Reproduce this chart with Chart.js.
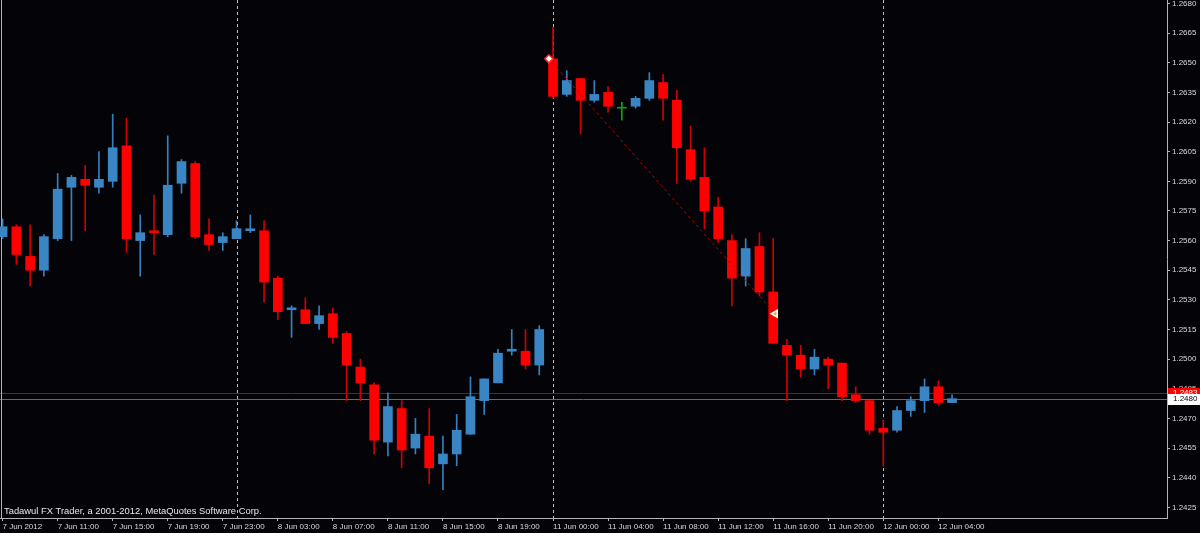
<!DOCTYPE html>
<html>
<head>
<meta charset="utf-8">
<title>Tadawul FX Trader chart</title>
<script src="https://cdn.jsdelivr.net/npm/chart.js@4.4.1/dist/chart.umd.min.js"></script>
<style>
  html, body { margin: 0; padding: 0; background: #040408; }
  canvas { display: block; }
</style>
</head>
<body>
<canvas id="chart" width="1200" height="533"></canvas>
<script>
// hourly bars, 7 Jun 2012 07:00 .. 12 Jun 2012 05:00 (index = bar number)
const openP = [
  1.2562, 1.2567, 1.2552, 1.2545, 1.2561, 1.2587, 1.2591, 1.2587, 1.2590, 1.2608,
  1.2560, 1.2565, 1.2563, 1.2589, 1.2599, 1.2563, 1.2559, 1.2561, 1.2565, 1.2565,
  1.2541, 1.2525, 1.2525, 1.2518, 1.2523, 1.2513, 1.2496, 1.2487, 1.2458, 1.2475,
  1.2455, 1.2461, 1.2447, 1.2452, 1.2462, 1.2479, 1.2488, 1.2504, 1.2504, 1.2497,
  1.2652, 1.2634, 1.2642, 1.2631, 1.2635, 1.2627, 1.2628, 1.2632, 1.2640, 1.2631,
  1.2606, 1.2592, 1.2577, 1.2560, 1.2542, 1.2557, 1.2534, 1.2507, 1.2502, 1.2495,
  1.2500, 1.2498, 1.2482, 1.2479, 1.2465, 1.2464, 1.2474, 1.2479, 1.2486, 1.2478
];
const highP = [
  1.2571, 1.2568, 1.2568, 1.2563, 1.2594, 1.2593, 1.2598, 1.2605, 1.2624, 1.2622,
  1.2573, 1.2583, 1.2613, 1.2601, 1.2600, 1.2571, 1.2564, 1.2570, 1.2573, 1.2570,
  1.2542, 1.2527, 1.2531, 1.2527, 1.2526, 1.2514, 1.2500, 1.2488, 1.2483, 1.2479,
  1.2470, 1.2475, 1.2461, 1.2472, 1.2491, 1.2490, 1.2505, 1.2515, 1.2515, 1.2517,
  1.2668, 1.2646, 1.2642, 1.2641, 1.2638, 1.2630, 1.2633, 1.2645, 1.2644, 1.2636,
  1.2618, 1.2607, 1.2582, 1.2563, 1.2561, 1.2564, 1.2561, 1.2510, 1.2507, 1.2505,
  1.2501, 1.2498, 1.2486, 1.2479, 1.2469, 1.2476, 1.2481, 1.2490, 1.2489, 1.2482
];
const lowP = [
  1.2561, 1.2548, 1.2537, 1.2542, 1.2560, 1.2560, 1.2565, 1.2584, 1.2587, 1.2554,
  1.2542, 1.2553, 1.2562, 1.2584, 1.2561, 1.2555, 1.2555, 1.2561, 1.2564, 1.2529,
  1.2520, 1.2511, 1.2518, 1.2515, 1.2508, 1.2479, 1.2479, 1.2452, 1.2451, 1.2445,
  1.2452, 1.2437, 1.2434, 1.2446, 1.2462, 1.2472, 1.2488, 1.2502, 1.2495, 1.2492,
  1.2632, 1.2633, 1.2614, 1.2630, 1.2625, 1.2621, 1.2627, 1.2631, 1.2621, 1.2589,
  1.2590, 1.2566, 1.2559, 1.2527, 1.2537, 1.2532, 1.2508, 1.2479, 1.2491, 1.2492,
  1.2485, 1.2479, 1.2478, 1.2462, 1.2446, 1.2463, 1.2471, 1.2473, 1.2477, 1.2478
];
const closeP = [
  1.2567, 1.2553, 1.2545, 1.2562, 1.2586, 1.2592, 1.2588, 1.2591, 1.2607, 1.2561,
  1.2564, 1.2564, 1.2588, 1.2600, 1.2562, 1.2558, 1.2562, 1.2566, 1.2566, 1.2539,
  1.2524, 1.2526, 1.2518, 1.2522, 1.2511, 1.2497, 1.2488, 1.2459, 1.2476, 1.2454,
  1.2462, 1.2445, 1.2452, 1.2464, 1.2481, 1.2490, 1.2503, 1.2505, 1.2497, 1.2515,
  1.2633, 1.2641, 1.2631, 1.2634, 1.2628, 1.2627, 1.2632, 1.2641, 1.2632, 1.2607,
  1.2591, 1.2575, 1.2561, 1.2541, 1.2556, 1.2534, 1.2508, 1.2502, 1.2495, 1.2501,
  1.2497, 1.2481, 1.2479, 1.2464, 1.2463, 1.2474, 1.2479, 1.2486, 1.2478, 1.2480
];

const xTickPos = [0, 4, 8, 12, 16, 20, 24, 28, 32, 36, 40, 44, 48, 52, 56, 60, 64, 68];
const xTickLabels = [
  '7 Jun 2012', '7 Jun 11:00', '7 Jun 15:00', '7 Jun 19:00', '7 Jun 23:00',
  '8 Jun 03:00', '8 Jun 07:00', '8 Jun 11:00', '8 Jun 15:00', '8 Jun 19:00',
  '11 Jun 00:00', '11 Jun 04:00', '11 Jun 08:00', '11 Jun 12:00', '11 Jun 16:00',
  '11 Jun 20:00', '12 Jun 00:00', '12 Jun 04:00'
];
const priceTicks = [
  1.2425, 1.2440, 1.2455, 1.2470, 1.2485, 1.2500, 1.2515, 1.2530, 1.2545,
  1.2560, 1.2575, 1.2590, 1.2605, 1.2620, 1.2635, 1.2650, 1.2665, 1.2680
];
const daySeparators = [17, 40, 64];   // 8 Jun, 11 Jun, 12 Jun 00:00
const bidPrice = 1.2480;
const askPrice = 1.2483;
const tradeX = [39.7, 56.15];
const tradeY = [1.2652, 1.2523];

const UP = '#3a86c4', DOWN = '#ff0000', DOJI = '#12a012';
const AXIS = '#b4b4b4', TXT = '#d8d8d8';
const FONT = '"Liberation Sans", Arial, sans-serif';

const bodyColor = openP.map((o, i) => closeP[i] > o ? UP : (closeP[i] < o ? DOWN : DOJI));
const wickColor = openP.map((o, i) => closeP[i] > o ? '#3580c0' : (closeP[i] < o ? '#d00000' : DOJI));

// MT4 has no label padding round the plot
const noPad = s => { s.paddingTop = 0; s.paddingBottom = 0; s.paddingLeft = 0; s.paddingRight = 0; };

const mtChrome = {
  id: 'mtChrome',
  beforeDraw(chart) {
    const ctx = chart.ctx;
    ctx.save();
    ctx.fillStyle = '#040408';
    ctx.fillRect(0, 0, chart.width, chart.height);
    ctx.restore();
  },
  beforeDatasetsDraw(chart) {
    const { ctx, chartArea: a, scales: { x, y } } = chart;
    ctx.save();
    // day separators
    ctx.strokeStyle = '#bdbdbd';
    ctx.lineWidth = 1;
    ctx.setLineDash([3, 3]);
    daySeparators.forEach(d => {
      const px = Math.round(x.getPixelForValue(d)) + 0.5;
      ctx.beginPath();
      ctx.moveTo(px, a.top);
      ctx.lineTo(px, a.bottom);
      ctx.stroke();
    });
    ctx.setLineDash([]);
    // ask / bid lines
    const ya = Math.round(y.getPixelForValue(askPrice)) + 0.5;
    ctx.strokeStyle = '#8e1212';
    ctx.beginPath(); ctx.moveTo(a.left, ya); ctx.lineTo(a.right, ya); ctx.stroke();
    const yb = Math.round(y.getPixelForValue(bidPrice)) + 0.5;
    ctx.strokeStyle = '#646a6c';
    ctx.beginPath(); ctx.moveTo(a.left, yb); ctx.lineTo(a.right, yb); ctx.stroke();
    // left frame
    ctx.strokeStyle = AXIS;
    ctx.beginPath(); ctx.moveTo(a.left + 1.5, a.top); ctx.lineTo(a.left + 1.5, a.bottom); ctx.stroke();
    ctx.restore();
  },
  afterDraw(chart) {
    const { ctx, chartArea: a, scales: { y } } = chart;
    ctx.save();
    ctx.font = '8px ' + FONT;
    ctx.textBaseline = 'middle';
    ctx.textAlign = 'left';
    const ya = y.getPixelForValue(askPrice);
    ctx.fillStyle = '#ff0000';
    ctx.fillRect(a.right + 1, Math.round(ya) - 5, chart.width - a.right - 1, 11);
    ctx.fillStyle = '#ffffff';
    ctx.fillText(askPrice.toFixed(4), a.right + 6, ya);
    const yb = y.getPixelForValue(bidPrice);
    ctx.fillStyle = '#ffffff';
    ctx.fillRect(a.right + 1, Math.round(yb) - 5, chart.width - a.right - 1, 11);
    ctx.fillStyle = '#000000';
    ctx.fillText(bidPrice.toFixed(4), a.right + 6, yb);
    // copyright line
    ctx.font = '9.4px ' + FONT;
    ctx.fillStyle = '#e6e6e6';
    ctx.textBaseline = 'alphabetic';
    ctx.fillText('Tadawul FX Trader, a 2001-2012, MetaQuotes Software Corp.', a.left + 4, a.bottom - 4);
    ctx.restore();
  }
};

new Chart(document.getElementById('chart'), {
  type: 'bar',
  data: {
    datasets: [
      {
        label: 'trade',
        type: 'line',
        order: 1,
        data: tradeX.map((v, i) => ({ x: v, y: tradeY[i] })),
        borderColor: '#b80000',
        borderWidth: 1,
        borderDash: [3, 3],
        pointStyle: ['rectRot', 'triangle'],
        rotation: [0, -90],
        pointRadius: [4, 4],
        pointBackgroundColor: ['#ffffff', '#e0aa48'],
        pointBorderColor: ['#ff2a2a', '#ffffff'],
        pointBorderWidth: 1.5
      },
      {
        label: 'body',
        order: 2,
        grouped: false,
        data: openP.map((o, i) => ({ x: i, y: [o, closeP[i]] })),
        backgroundColor: bodyColor,
        barThickness: 9,
        minBarLength: 1,
        borderWidth: 0
      },
      {
        label: 'wick',
        order: 3,
        grouped: false,
        data: lowP.map((l, i) => ({ x: i, y: [l, highP[i]] })),
        backgroundColor: wickColor,
        barThickness: 1,
        borderWidth: 0
      }
    ]
  },
  options: {
    responsive: false,
    animation: false,
    layout: { padding: 0, autoPadding: false },
    plugins: { legend: { display: false }, tooltip: { enabled: false } },
    scales: {
      x: {
        type: 'linear',
        position: 'bottom',
        offset: false,
        min: -0.19,
        max: 84.62,
        afterBuildTicks: s => { s.ticks = xTickPos.map(v => ({ value: v })); },
        afterFit: s => { s.height = 15; noPad(s); },
        grid: { display: true, drawOnChartArea: false, drawTicks: true, tickLength: 3, color: AXIS, offset: false },
        border: { display: true, color: AXIS, width: 1 },
        ticks: {
          autoSkip: false,
          maxRotation: 0,
          minRotation: 0,
          align: 'start',
          padding: 1,
          color: TXT,
          font: { family: FONT, size: 8 },
          callback: v => xTickLabels[xTickPos.indexOf(v)]
        }
      },
      y: {
        type: 'linear',
        position: 'right',
        min: 1.24196,
        max: 1.268177,
        afterBuildTicks: s => { s.ticks = priceTicks.map(v => ({ value: v })); },
        afterFit: s => { s.width = 33; noPad(s); },
        grid: { display: true, drawOnChartArea: false, drawTicks: true, tickLength: 3, color: AXIS },
        border: { display: true, color: AXIS, width: 1 },
        ticks: {
          autoSkip: false,
          padding: 2,
          color: TXT,
          font: { family: FONT, size: 8 },
          callback: v => v.toFixed(4)
        }
      }
    }
  },
  plugins: [mtChrome]
});
</script>
</body>
</html>
